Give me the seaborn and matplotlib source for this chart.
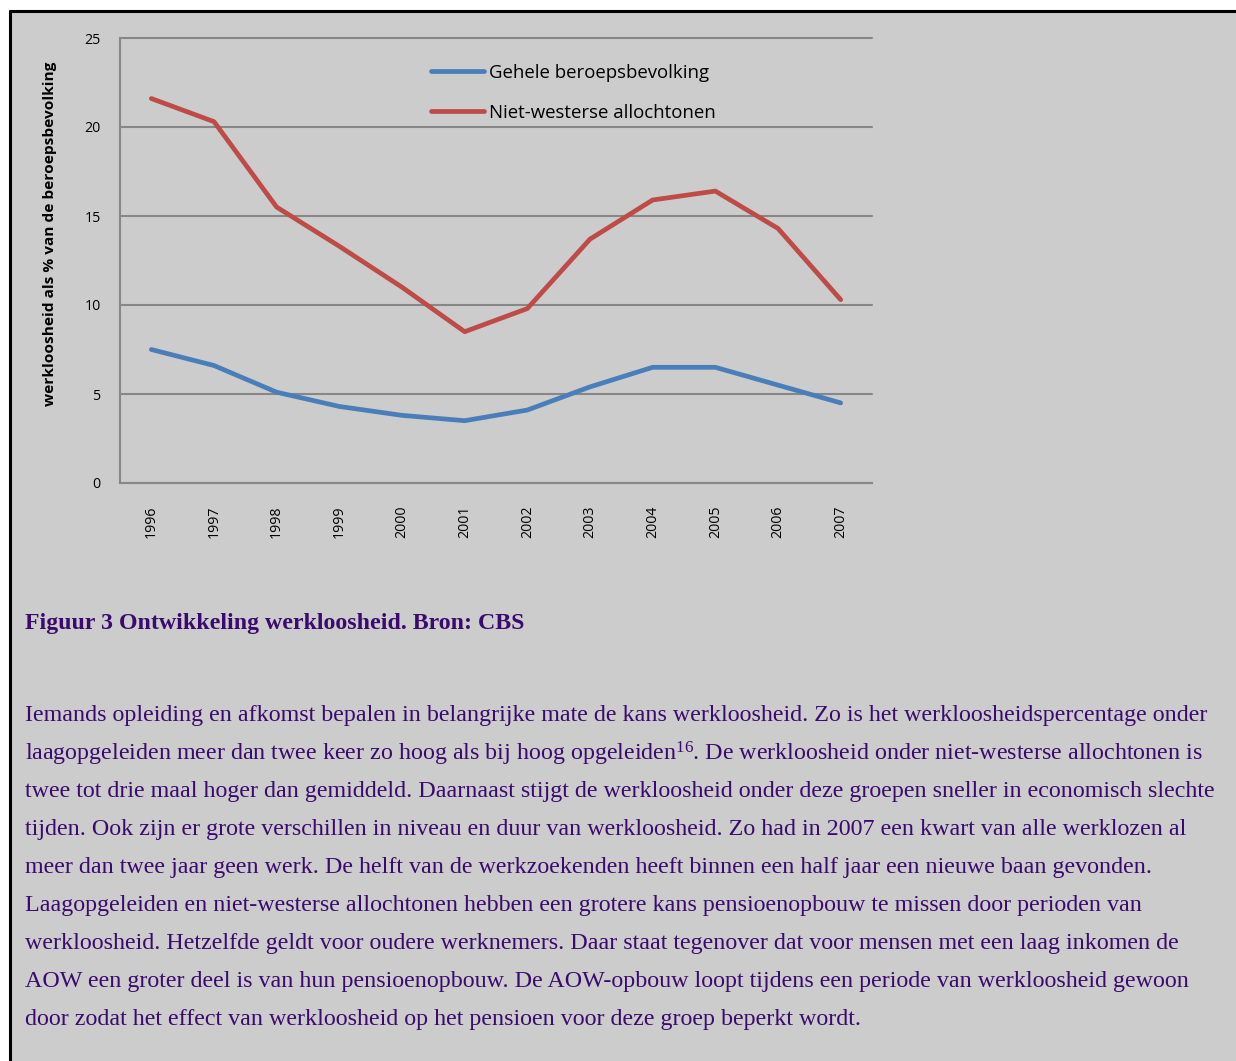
import matplotlib

matplotlib.use("Agg")
import matplotlib.pyplot as plt
import pandas as pd
import seaborn as sns
from matplotlib.patches import Rectangle
from matplotlib.lines import Line2D

W, H = 1236, 1061

years = list(range(1996, 2008))
gehele = [7.5, 6.6, 5.1, 4.3, 3.8, 3.5, 4.1, 5.4, 6.5, 6.5, 5.5, 4.5]
niet_westers = [21.6, 20.3, 15.5, 13.3, 11.0, 8.5, 9.8, 13.7, 15.9, 16.4, 14.3, 10.3]
series_names = ["Gehele beroepsbevolking", "Niet-westerse allochtonen"]
y_ticks = [0, 5, 10, 15, 20, 25]

caption = "Figuur 3 Ontwikkeling werkloosheid. Bron: CBS"
body_lines = [
    "Iemands opleiding en afkomst bepalen in belangrijke mate de kans werkloosheid. "
    "Zo is het werkloosheidspercentage onder",
    "laagopgeleiden meer dan twee keer zo hoog als bij hoog opgeleiden$^{16}$. "
    "De werkloosheid onder niet-westerse allochtonen is",
    "twee tot drie maal hoger dan gemiddeld. Daarnaast stijgt de werkloosheid onder "
    "deze groepen sneller in economisch slechte",
    "tijden. Ook zijn er grote verschillen in niveau en duur van werkloosheid. "
    "Zo had in 2007 een kwart van alle werklozen al",
    "meer dan twee jaar geen werk. De helft van de werkzoekenden heeft binnen een "
    "half jaar een nieuwe baan gevonden.",
    "Laagopgeleiden en niet-westerse allochtonen hebben een grotere kans "
    "pensioenopbouw te missen door perioden van",
    "werkloosheid. Hetzelfde geldt voor oudere werknemers. Daar staat tegenover dat "
    "voor mensen met een laag inkomen de",
    "AOW een groter deel is van hun pensioenopbouw. De AOW-opbouw loopt tijdens een "
    "periode van werkloosheid gewoon",
    "door zodat het effect van werkloosheid op het pensioen voor deze groep beperkt wordt.",
]

df = pd.DataFrame({
    "jaar": years * 2,
    "waarde": gehele + niet_westers,
    "reeks": [series_names[0]] * len(years) + [series_names[1]] * len(years),
})

sns.set_style("white")
plt.rcParams["font.family"] = ["Open Sans", "DejaVu Sans"]
plt.rcParams["text.color"] = "black"
plt.rcParams["xtick.labelcolor"] = "black"
plt.rcParams["ytick.labelcolor"] = "black"
plt.rcParams["mathtext.fontset"] = "custom"
plt.rcParams["mathtext.rm"] = "Liberation Serif"
plt.rcParams["mathtext.it"] = "Liberation Serif"

GRAY = "#878787"
BG = "#cccccc"
PURPLE = "#3c0a6e"
colors = {series_names[0]: "#4a7ebb", series_names[1]: "#be4b48"}

fig = plt.figure(figsize=(W / 100, H / 100), dpi=100, facecolor="white")

# gray page panel with black border on top and left
fig.add_artist(Rectangle((11 / W, 0), 1 - 11 / W, 1 - 12 / H, zorder=-10,
                         transform=fig.transFigure, facecolor=BG, edgecolor="none"))
fig.add_artist(Line2D([9.5 / W, 1], [1 - 11 / H, 1 - 11 / H], transform=fig.transFigure,
                      color="black", lw=2.2, zorder=-5))
fig.add_artist(Line2D([9.5 / W, 9.5 / W], [0, 1 - 11 / H], transform=fig.transFigure,
                      color="black", lw=2.2, zorder=-5))

ax = fig.add_axes([120 / W, 1 - 483 / H, (872 - 120) / W, (483 - 38) / H])
ax.set_facecolor("none")

sns.lineplot(data=df, x="jaar", y="waarde", hue="reeks", palette=colors,
             linewidth=3.4, ax=ax, legend=False, solid_capstyle="round")

ax.set_xlim(years[0] - 0.5, years[-1] + 0.5)
ax.set_ylim(0, 25)
ax.set_yticks(y_ticks)
ax.set_yticklabels([str(t) for t in y_ticks])
ax.set_xticks(years)
ax.set_xticklabels([str(y) for y in years], rotation=90)
ax.set_xticks([y - 0.5 for y in years] + [years[-1] + 0.5], minor=True)
ax.tick_params(axis="x", which="major", length=0, pad=16, labelsize=10.2)
ax.tick_params(axis="x", which="minor", length=3.5, width=1.5, color=GRAY, direction="out")
ax.tick_params(axis="y", length=3, width=1.5, color=GRAY, pad=11, labelsize=10.2)
ax.grid(axis="y", color=GRAY, linewidth=1.5)
for gl in ax.get_ygridlines():
    gl.set_clip_on(False)
ax.set_axisbelow(True)
for side in ["top", "right"]:
    ax.spines[side].set_visible(False)
for side in ["left", "bottom"]:
    ax.spines[side].set_color(GRAY)
    ax.spines[side].set_linewidth(1.5)
ax.set_xlabel("")
ax.set_ylabel("")

fig.text(50 / W, 1 - 234 / H, "werkloosheid als % van de beroepsbevolking",
         rotation=90, ha="center", va="center", fontsize=11.1, fontweight="bold")

handles = [Line2D([], [], color=colors[n], lw=3.4, solid_capstyle="round")
           for n in series_names]
ax.legend(handles, series_names, loc="upper left",
          bbox_to_anchor=(431 / W, 1 - 64 / H), bbox_transform=fig.transFigure,
          frameon=False, fontsize=13.4, handlelength=2.85, handletextpad=0.27,
          labelspacing=1.17, borderpad=0, borderaxespad=0)

fig.text(25 / W, 1 - 623 / H, caption, ha="left", va="center",
         family="Liberation Serif", fontweight="bold", fontsize=17.2, color=PURPLE)

for i, line in enumerate(body_lines):
    fig.text(25 / W, 1 - (716 + 38 * i) / H, line, ha="left", va="center",
             family="Liberation Serif", fontsize=17.3, color=PURPLE)

fig.savefig("out.png", dpi=100, facecolor="white")
